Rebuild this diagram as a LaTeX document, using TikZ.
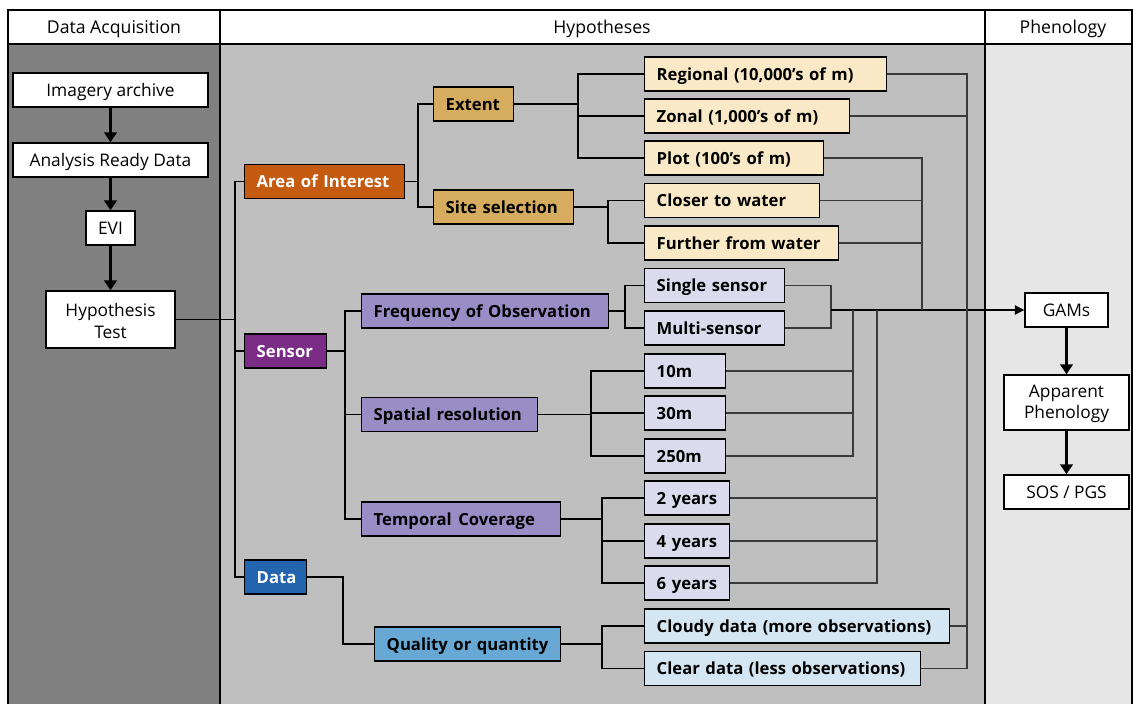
\documentclass[tikz,border=0pt]{standalone}
\usepackage{fontspec}
\setmainfont{Open Sans}
\usetikzlibrary{arrows.meta}

\definecolor{colL}{HTML}{808080}
\definecolor{colM}{HTML}{BFBFBF}
\definecolor{colR}{HTML}{E6E6E6}
\definecolor{aoiC}{HTML}{C55A11}
\definecolor{senC}{HTML}{7B2C85}
\definecolor{datC}{HTML}{2265AE}
\definecolor{tanC}{HTML}{D6AC5E}
\definecolor{creamC}{HTML}{F9E9C6}
\definecolor{lavC}{HTML}{9A8CC4}
\definecolor{lilacC}{HTML}{DCDBEE}
\definecolor{skyC}{HTML}{67A9D4}
\definecolor{iceC}{HTML}{D4E6F2}
\definecolor{wireC}{HTML}{3A3A3A}

\begin{document}
\begin{tikzpicture}[x=0.75pt,y=-0.75pt,
  frame/.style={draw=black, line width=1.1pt},
  hdr/.style={font=\fontsize{13.25}{15}\selectfont, text height=9.5pt, text depth=0.5pt},
  plain/.style={draw=black, line width=1.1pt, fill=white, align=center,
    inner sep=0pt, font=\fontsize{13}{16}\selectfont},
  oneline/.style={text height=9.5pt, text depth=0.5pt},
  lbox/.style n args={2}{draw=black, line width=1.1pt, fill=#2, anchor=west,
    minimum height=25.5pt, inner xsep=9pt, inner ysep=0pt,
    text width=(#1-24)*0.75pt, align=left,
    text height=9.5pt, text depth=0.5pt,
    font=\bfseries\fontsize{12.5}{15}\selectfont},
  wbox/.style n args={2}{lbox={#1}{#2}, text=white},
  tree/.style={draw=black, line width=1.2pt},
  wire/.style={draw=wireC, line width=0.8pt},
  bigarrow/.style={draw=black, line width=2.4pt,
    -{Triangle[width=9.5pt,length=7.5pt]}},
  gamarrow/.style={draw=black, line width=0.8pt,
    -{Triangle[width=7pt,length=7pt]}}
]
\useasboundingbox (0,0) rectangle (1133,704);

% column backgrounds and header row
\fill[colL] (8,44) rectangle (220,704);
\fill[colM] (220,44) rectangle (985,704);
\fill[colR] (985,44) rectangle (1133,704);
\fill[white] (8,10) rectangle (1132,44);
\draw[frame] (8,704) -- (8,10) -- (1132,10) -- (1132,704);
\draw[frame] (8,44) -- (1132,44);
\draw[frame] (220,10) -- (220,704);
\draw[frame] (985,10) -- (985,704);

\node[hdr] (h1) at (114,27) {Data Acquisition};
\node[hdr] (h2) at (602,27) {Hypotheses};
\node[hdr] (h3) at (1063,27) {Phenology};

% data acquisition chain
\node[plain, oneline, minimum width=146.25pt, minimum height=25.5pt] (ia) at (110.5,90) {Imagery archive};
\node[plain, oneline, minimum width=146.25pt, minimum height=25.5pt] (ard) at (110.5,160) {Analysis Ready Data};
\node[plain, oneline, minimum width=36.75pt, minimum height=25.5pt] (evi) at (110.5,228) {EVI};
\node[plain, minimum width=96.75pt, minimum height=42.75pt] (ht) at (110.5,319.5) {};
\node (htt) at ([yshift=-1pt]ht.center) [align=center, font=\fontsize{13}{16}\selectfont] {Hypothesis\\Test};
\draw[bigarrow] (ia.south) -- (ard.north);
\draw[bigarrow] (ard.south) -- (evi.north);
\draw[bigarrow] (evi.south) -- (ht.north);

% phenology chain
\node[plain, oneline, minimum width=62.25pt, minimum height=25.5pt] (gams) at (1066.5,310) {GAMs};
\node[plain, minimum width=93.75pt, minimum height=41.25pt] (ap) at (1066.5,402.5) {};
\node (apt) at ([yshift=-1pt]ap.center) [align=center, font=\fontsize{13}{16}\selectfont] {Apparent\\Phenology};
\node[plain, oneline, minimum width=93.75pt, minimum height=25.5pt] (sos) at (1066.5,492) {SOS / PGS};
\draw[bigarrow] (gams.south) -- (ap.north);
\draw[bigarrow] (ap.south) -- (sos.north);

% first level
\node[wbox={160}{aoiC}] (aoi) at (244,181.5) {Area of Interest};
\node[wbox={82}{senC}] (sen) at (244,351) {Sensor};
\node[wbox={62}{datC}] (dat) at (244,577) {Data};

% second level
\node[lbox={80}{tanC}] (ext) at (433,104) {Extent};
\node[lbox={140}{tanC}] (site) at (433,207) {Site selection};
\node[lbox={247}{lavC}] (freq) at (361,311) {Frequency of Observation};
\node[lbox={176}{lavC}] (spat) at (361,414.5) {Spatial resolution};
\node[lbox={199}{lavC}] (temp) at (361,519) {\mbox{Temporal\hspace{5pt}Coverage}};
\node[lbox={186}{skyC}] (qual) at (374,644) {\mbox{Quality or quantity}};

% leaves
\node[lbox={242}{creamC}] (reg) at (644,74) {\mbox{Regional (10,000’s of m)}};
\node[lbox={205}{creamC}] (zon) at (644,116) {\mbox{Zonal (1,000’s of m)}};
\node[lbox={179}{creamC}] (plot) at (644,158) {\mbox{Plot (100’s of m)}};
\node[lbox={175}{creamC}] (clo) at (644,200.5) {Closer to water};
\node[lbox={194}{creamC}] (fur) at (644,243) {\mbox{Further from water}};
\node[lbox={140}{lilacC}] (sing) at (644,285.5) {\mbox{Single sensor}};
\node[lbox={140}{lilacC}] (mult) at (644,328) {Multi-sensor};
\node[lbox={81}{lilacC}] (m10) at (644,371) {10m};
\node[lbox={81}{lilacC}] (m30) at (644,413) {30m};
\node[lbox={81}{lilacC}] (m250) at (644,456) {250m};
\node[lbox={85}{lilacC}] (y2) at (644,498) {\mbox{2 years}};
\node[lbox={85}{lilacC}] (y4) at (644,541) {\mbox{4 years}};
\node[lbox={85}{lilacC}] (y6) at (644,583) {\mbox{6 years}};
\node[lbox={305}{iceC}] (cld) at (644,626) {\mbox{Cloudy data (more observations)}};
\node[lbox={276}{iceC}] (clr) at (644,668.5) {\mbox{Clear data (less observations)}};

% bus positions
\coordinate (bT) at (235,0);
\coordinate (bA) at (418,0);
\coordinate (bE) at (578,0);
\coordinate (bS) at (608,0);
\coordinate (bN) at (345,0);
\coordinate (bF) at (625,0);
\coordinate (bR) at (591,0);
\coordinate (bC) at (602,0);
\coordinate (bD) at (343,0);
\coordinate (bQ) at (602,0);

% tree connectors
\draw[tree] (ht.east) -- (ht.east -| bT);
\draw[tree] (aoi.west) -- (aoi.west -| bT) -- (dat.west -| bT) -- (dat.west);
\draw[tree] (sen.west) -- (sen.west -| bT);

\draw[tree] (aoi.east) -- (aoi.east -| bA);
\draw[tree] (ext.west) -- (ext.west -| bA) -- (site.west -| bA) -- (site.west);

\draw[tree] (ext.east) -- (ext.east -| bE);
\draw[tree] (reg.west) -- (reg.west -| bE) -- (plot.west -| bE) -- (plot.west);
\draw[tree] (zon.west) -- (zon.west -| bE);

\draw[tree] (site.east) -- (site.east -| bS);
\draw[tree] (clo.west) -- (clo.west -| bS) -- (fur.west -| bS) -- (fur.west);

\draw[tree] (sen.east) -- (sen.east -| bN);
\draw[tree] (freq.west) -- (freq.west -| bN) -- (temp.west -| bN) -- (temp.west);
\draw[tree] (spat.west) -- (spat.west -| bN);

\draw[tree] (freq.east) -- (freq.east -| bF);
\draw[tree] (sing.west) -- (sing.west -| bF) -- (mult.west -| bF) -- (mult.west);

\draw[tree] (spat.east) -- (spat.east -| bR);
\draw[tree] (m10.west) -- (m10.west -| bR) -- (m250.west -| bR) -- (m250.west);
\draw[tree] (m30.west) -- (m30.west -| bR);

\draw[tree] (temp.east) -- (temp.east -| bC);
\draw[tree] (y2.west) -- (y2.west -| bC) -- (y6.west -| bC) -- (y6.west);
\draw[tree] (y4.west) -- (y4.west -| bC);

\draw[tree] (dat.east) -- (dat.east -| bD) -- (qual.west -| bD) -- (qual.west);

\draw[tree] (qual.east) -- (qual.east -| bQ);
\draw[tree] (cld.west) -- (cld.west -| bQ) -- (clr.west -| bQ) -- (clr.west);

% output wires gathering into GAMs
\coordinate (oS) at (831,0);
\coordinate (oR) at (853,0);
\coordinate (oT) at (877,0);
\coordinate (oP) at (922,0);
\coordinate (oZ) at (967,0);

\draw[wire] (sing.east) -- (sing.east -| oS) -- (mult.east -| oS) -- (mult.east);
\draw[gamarrow] (gams.west -| oS) -- (gams.west);

\draw[wire] (m10.east) -- (m10.east -| oR) -- (gams.west -| oR);
\draw[wire] (m30.east) -- (m30.east -| oR);
\draw[wire] (m250.east) -- (m250.east -| oR) -- (m10.east -| oR);

\draw[wire] (y2.east) -- (y2.east -| oT);
\draw[wire] (y4.east) -- (y4.east -| oT);
\draw[wire] (y6.east) -- (y6.east -| oT) -- (gams.west -| oT);

\draw[wire] (plot.east) -- (plot.east -| oP) -- (gams.west -| oP);
\draw[wire] (clo.east) -- (clo.east -| oP);
\draw[wire] (fur.east) -- (fur.east -| oP);

\draw[wire] (reg.east) -- (reg.east -| oZ) -- (clr.east -| oZ) -- (clr.east);
\draw[wire] (zon.east) -- (zon.east -| oZ);
\draw[wire] (cld.east) -- (cld.east -| oZ);
\end{tikzpicture}
\end{document}
